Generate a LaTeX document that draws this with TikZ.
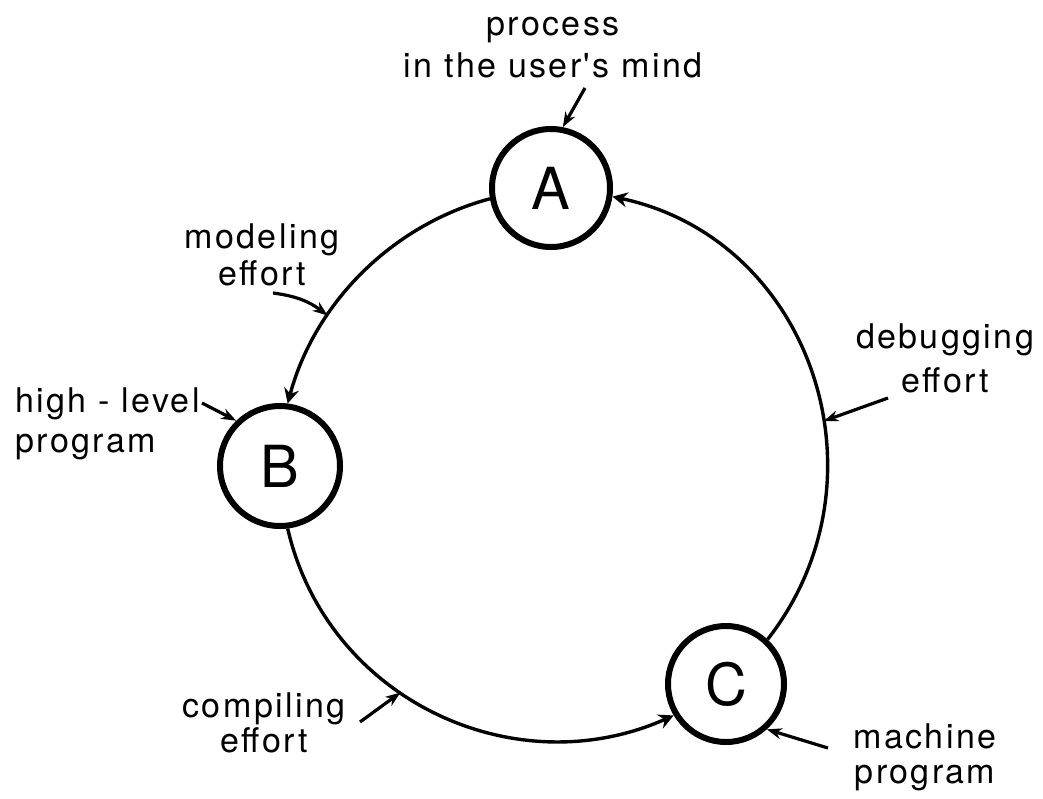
\documentclass[tikz,border=0pt]{standalone}
\usepackage{fontspec}
\usetikzlibrary{arrows.meta}
\newfontfamily\labfont[LetterSpace=7]{TeX Gyre Heros}
\newfontfamily\letfont{TeX Gyre Heros}
\begin{document}
\begin{tikzpicture}[x=1pt,y=1pt,
  state/.style={circle, draw, line width=6pt, minimum size=#1, inner sep=0pt,
    font=\letfont\fontsize{58}{58}\selectfont},
  state/.default=120pt,
  arc/.style={line width=3.4pt, -{Stealth[length=15pt,width=15pt,inset=5pt]}},
  ptr/.style={line width=3.2pt, -{Stealth[length=15pt,width=11pt]}},
  lab/.style={font=\labfont\fontsize{34}{40}\selectfont, inner sep=0pt, align=center}]
\useasboundingbox (0,0) rectangle (1043,-798);
% main nodes
\node[state=118pt] (A) at (551,-188) {A};
\node[state=120pt] (B) at (280,-466) {B};
\node[state=116pt] (C) at (726,-684) {C};
% arcs of the cycle
\draw[arc] (A.190) to[out=195, in=75, looseness=0.91] node[coordinate,pos=0.68] (m) {} (B.83);
\draw[arc] (B.277) to[out=283, in=204, looseness=1.045] node[coordinate,pos=0.415] (cp) {} (C.211);
\draw[arc] (C.47) to[out=52, in=348, looseness=1.11] node[coordinate,pos=0.41] (dp) {} (A.352);
% labels (anchor base = baseline of the last line)
\node[lab, anchor=base] (lA) at (553,-77) {process\\[2pt]in the user's mind};
\node[lab, anchor=base] (lM) at (262,-285) {modeling\\[-3pt]effort};
\node[lab, anchor=base west, align=left] (lB) at (15,-452) {high - level\\program};
\node[lab, anchor=base] (lD) at (945,-392) {debugging\\[4pt]effort};
\node[lab, anchor=base] (lK) at (264,-752) {compiling\\[-5pt]effort};
\node[lab, anchor=base] (lC) at (925,-783) {machine\\[-5pt]program};
% pointer arrows
\coordinate (pa) at (585,-88);
\coordinate (ma) at (273,-293);
\coordinate (ha) at (202,-403);
\coordinate (da) at (888,-398);
\coordinate (ca) at (360,-722);
\coordinate (mca) at (828,-748);
\draw[ptr] (pa) -- (A.79);
\draw[ptr] (ma) to[bend left=15] (m);
\draw[ptr] (ha) -- (B.134);
\draw[ptr] (da) -- (dp);
\draw[ptr] (ca) -- (cp);
\draw[ptr] (mca) -- (C.-48);
\end{tikzpicture}
\end{document}
